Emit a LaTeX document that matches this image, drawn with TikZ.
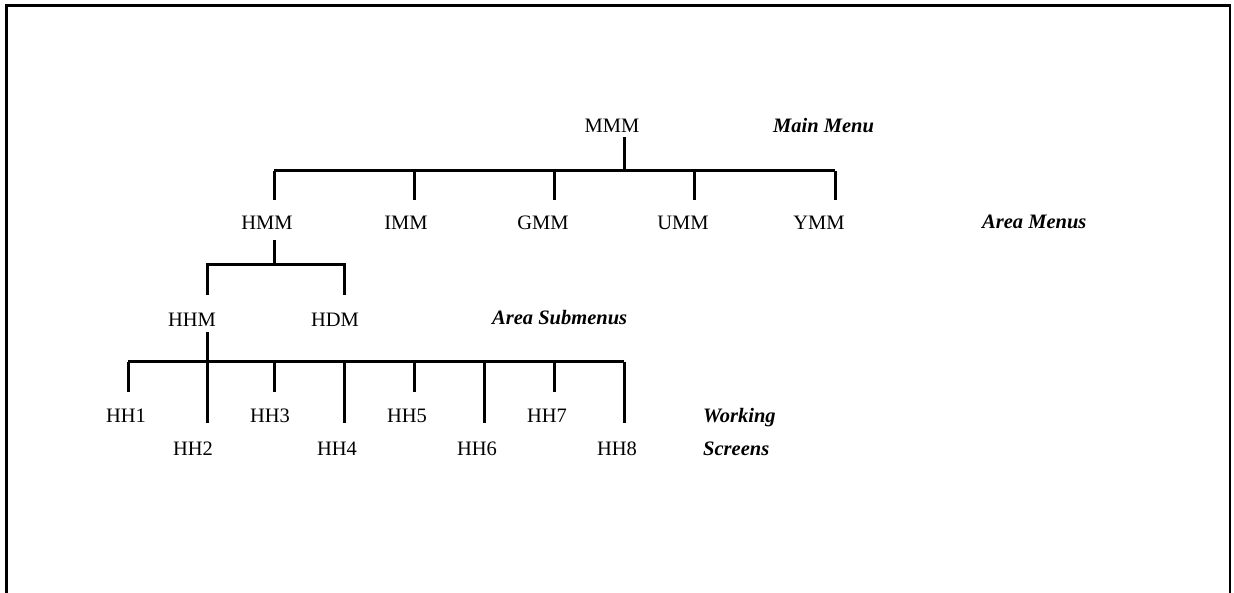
\documentclass[tikz,border=0pt]{standalone}
\usepackage{fontspec}
\setmainfont{Liberation Serif}
\begin{document}
\begin{tikzpicture}[x=1pt,y=-1pt,
  lbl/.style={inner sep=0pt,anchor=base,font=\fontsize{20.5}{24}\selectfont},
  lvl/.style={inner sep=0pt,anchor=base west,font=\fontsize{20.5}{24}\selectfont\bfseries\itshape},
  tree/.style={line width=3pt,line cap=butt,line join=miter},
  frame/.style={line width=2.2pt}]
\useasboundingbox (0,0) rectangle (1234,593);
\draw[frame] (6.5,600) -- (6.5,5.5) -- (1230,5.5) -- (1230,600);

% labels
\node[lbl] (MMM) at (612,133) {MMM};
\node[lvl] (mainmenu) at (773,133) {Main Menu};
\node[lbl] (HMM) at (267,230) {HMM};
\node[lbl] (IMM) at (406,230) {IMM};
\node[lbl] (GMM) at (543,230) {GMM};
\node[lbl] (UMM) at (683,230) {UMM};
\node[lbl] (YMM) at (819,230) {YMM};
\node[lvl] (areamenus) at (982,229) {Area Menus};
\node[lbl] (HHM) at (192,327) {HHM};
\node[lbl] (HDM) at (335,327) {HDM};
\node[lvl] (areasub) at (492,325) {Area Submenus};
\node[lbl] (HH1) at (126,422) {HH1};
\node[lbl] (HH2) at (193,455) {HH2};
\node[lbl] (HH3) at (270,422) {HH3};
\node[lbl] (HH4) at (337,455) {HH4};
\node[lbl] (HH5) at (407,422) {HH5};
\node[lbl] (HH6) at (477,455) {HH6};
\node[lbl] (HH7) at (547,422) {HH7};
\node[lbl] (HH8) at (617,455) {HH8};
\node[lvl] (working) at (703,422) {Working};
\node[lvl] (screens) at (703,455) {Screens};

% junction coordinates
\coordinate (m-top) at (624,137);
\coordinate (m-bar) at (624,171);
\coordinate (b1L) at (274,171);
\coordinate (b1R) at (835,171);
\foreach \n/\x in {HMM/274,IMM/414,GMM/554,UMM/694,YMM/835}{
  \coordinate (\n-up) at (\x,171);
  \coordinate (\n-end) at (\x,200);
}
\coordinate (h-top) at (274,240);
\coordinate (h-bar) at (274,265);
\coordinate (b2L) at (207,265);
\coordinate (b2R) at (344,265);
\coordinate (HHM-end) at (207,295);
\coordinate (HDM-end) at (344,295);
\coordinate (hh-top) at (207,332);
\coordinate (b3L) at (128,362);
\coordinate (b3R) at (624,362);
\foreach \n/\x/\y in {HH1/128/392,HH2/207/423,HH3/274/392,HH4/344/423,HH5/414/392,HH6/484/423,HH7/554/392,HH8/624/423}{
  \coordinate (\n-up) at (\x,362);
  \coordinate (\n-end) at (\x,\y);
}

% connectors
\draw[tree] (m-top) -- (m-bar);
\draw[tree] (b1L) -- (b1R);
\foreach \n in {HMM,IMM,GMM,UMM,YMM}{\draw[tree] (\n-up) -- (\n-end);}
\draw[tree] (h-top) -- (h-bar);
\draw[tree] (HHM-end) -- (b2L) -- (b2R) -- (HDM-end);
\draw[tree] (hh-top) -- (HH2-up);
\draw[tree] (b3L) -- (b3R);
\foreach \n in {HH1,HH2,HH3,HH4,HH5,HH6,HH7,HH8}{\draw[tree] (\n-up) -- (\n-end);}
\end{tikzpicture}
\end{document}
